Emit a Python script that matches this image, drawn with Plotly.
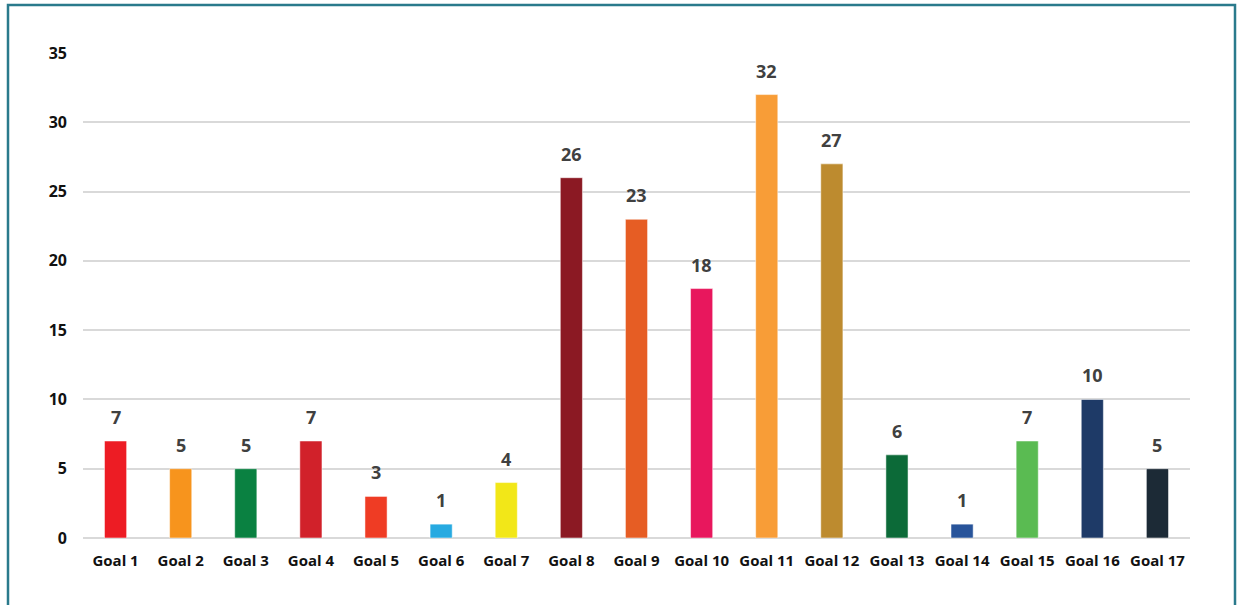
import plotly.graph_objects as go

goals = [f"Goal {i}" for i in range(1, 18)]
counts = [7, 5, 5, 7, 3, 1, 4, 26, 23, 18, 32, 27, 6, 1, 7, 10, 5]
colors = ["#ED1C24", "#F7941D", "#0A8141", "#D1212A", "#EF3C24", "#27AAE1",
          "#F2E718", "#8B1923", "#E65D24", "#E8175D", "#F89D37", "#BD8B2F",
          "#0C6A38", "#28549A", "#5ABB52", "#1E3A67", "#1C2A36"]
y_ticks = [0, 5, 10, 15, 20, 25, 30, 35]

fig = go.Figure(go.Bar(
    x=goals, y=counts,
    marker=dict(color=colors, line=dict(color="rgba(255,255,255,0.5)", width=1)),
))

for g, v in zip(goals, counts):
    fig.add_annotation(x=g, y=v, text=str(v), showarrow=False, yanchor="bottom",
                       yshift=10, font=dict(family="Open Sans", size=18,
                                            color="#404040", weight="bold"))

L, R, T, B = 83, 48, 53, 67
W, H = 1238, 605
pw, ph = W - L - R, H - T - B

fig.update_layout(
    width=W, height=H,
    margin=dict(l=L, r=R, t=T, b=B),
    paper_bgcolor="white", plot_bgcolor="white",
    bargap=0.66,
    showlegend=False,
    font=dict(family="Open Sans", color="#111111"),
    xaxis=dict(tickfont=dict(size=15, weight="bold", color="#111111"),
               showgrid=False, ticks="", showline=False, ticklabelstandoff=12),
    yaxis=dict(range=[0, 35], tickvals=y_ticks, showgrid=True, gridcolor="#D9D9D9",
               gridwidth=1.5, zeroline=True, zerolinecolor="#D9D9D9", zerolinewidth=1.5,
               tickfont=dict(size=16, weight="bold", color="#111111"), ticklabelstandoff=15),
    shapes=[dict(type="rect", xref="paper", yref="paper",
                 x0=(8 - L) / pw, x1=(1235 - L) / pw,
                 y0=(H - B - 640) / ph, y1=(H - B - 5) / ph,
                 line=dict(color="#2A7A8C", width=2.5), fillcolor="rgba(0,0,0,0)", layer="below")],
)

fig.write_html("out.html", config={"displayModeBar": False},
               post_script="document.body.style.margin='0';")
